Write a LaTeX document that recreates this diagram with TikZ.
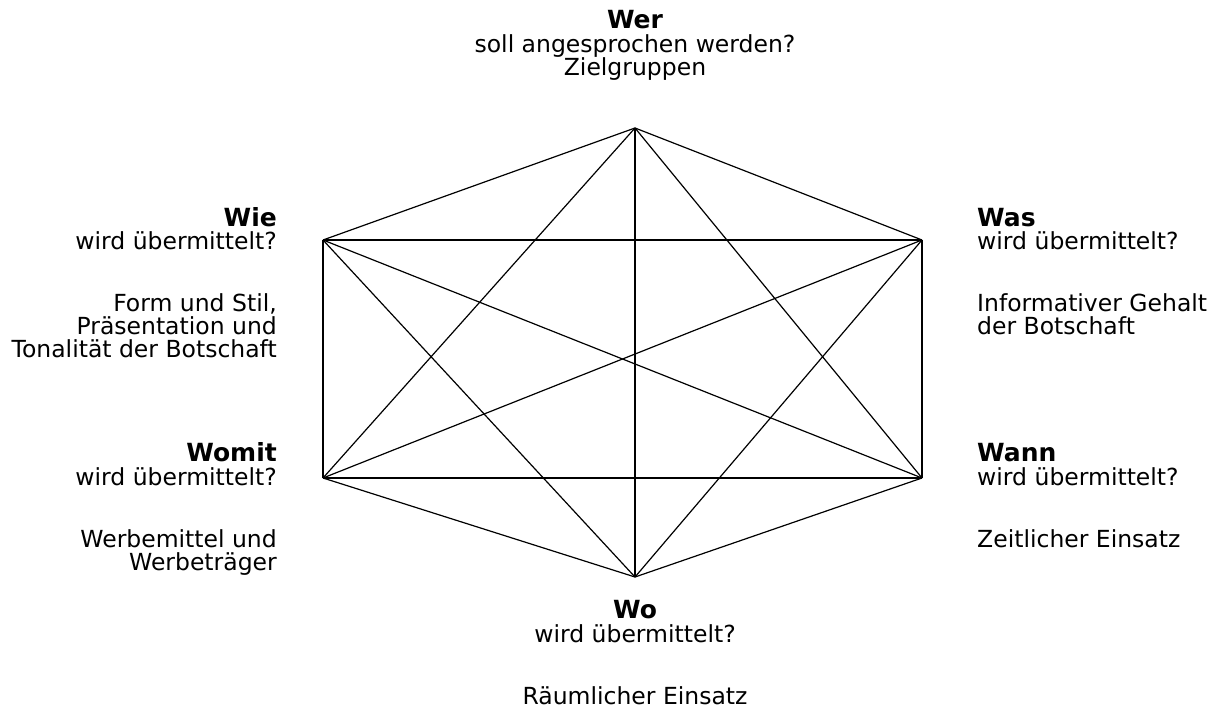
\documentclass[tikz,border=0pt]{standalone}
\usepackage{fontspec}
\setmainfont{DejaVu Sans}
\begin{document}
\begin{tikzpicture}[x=1pt,y=-1pt,
  edge/.style={line width=1.2pt},
  head/.style={font=\fontsize{25}{28}\selectfont\bfseries, inner sep=0pt},
  txt/.style={font=\fontsize{23.5}{28}\selectfont, inner sep=0pt}]
\useasboundingbox (0,0) rectangle (1217,722);
% hexagon corners
\coordinate (wer) at (635,128);
\coordinate (wie) at (323,240);
\coordinate (was) at (922,240);
\coordinate (womit) at (323,478);
\coordinate (wann) at (922,478);
\coordinate (wo) at (635,577);
% every corner joined to every other corner
\foreach \a/\b in {wer/wie,wer/was,wer/womit,wer/wann,wer/wo,
                   wie/was,wie/womit,wie/wann,wie/wo,
                   was/womit,was/wann,was/wo,
                   womit/wann,womit/wo,
                   wann/wo}
  \draw[edge] (\a) -- (\b);
% top
\node[head,anchor=base] (t1) at (635,29) {Wer};
\node[txt,anchor=base] (t2) at (635,53) {soll angesprochen werden?};
\node[txt,anchor=base] (t3) at (635,76) {Zielgruppen};
% upper left
\node[head,anchor=base east] (l1) at (277,226) {Wie};
\node[txt,anchor=base east] (l2) at (277,249) {wird übermittelt?};
\node[txt,anchor=base east] (l3) at (277,311) {Form und Stil,};
\node[txt,anchor=base east] (l4) at (277,334) {Präsentation und};
\node[txt,anchor=base east] (l5) at (277,357) {Tonalität der Botschaft};
% upper right
\node[head,anchor=base west] (r1) at (977,226) {Was};
\node[txt,anchor=base west] (r2) at (977,249) {wird übermittelt?};
\node[txt,anchor=base west] (r3) at (977,311) {Informativer Gehalt};
\node[txt,anchor=base west] (r4) at (977,334) {der Botschaft};
% lower left
\node[head,anchor=base east] (m1) at (277,461) {Womit};
\node[txt,anchor=base east] (m2) at (277,485) {wird übermittelt?};
\node[txt,anchor=base east] (m3) at (277,547) {Werbemittel und};
\node[txt,anchor=base east] (m4) at (277,570) {Werbeträger};
% lower right
\node[head,anchor=base west] (n1) at (977,461) {Wann};
\node[txt,anchor=base west] (n2) at (977,485) {wird übermittelt?};
\node[txt,anchor=base west] (n3) at (977,547) {Zeitlicher Einsatz};
% bottom
\node[head,anchor=base] (b1) at (635,618) {Wo};
\node[txt,anchor=base] (b2) at (635,642) {wird übermittelt?};
\node[txt,anchor=base] (b3) at (635,704) {Räumlicher Einsatz};
\end{tikzpicture}
\end{document}
